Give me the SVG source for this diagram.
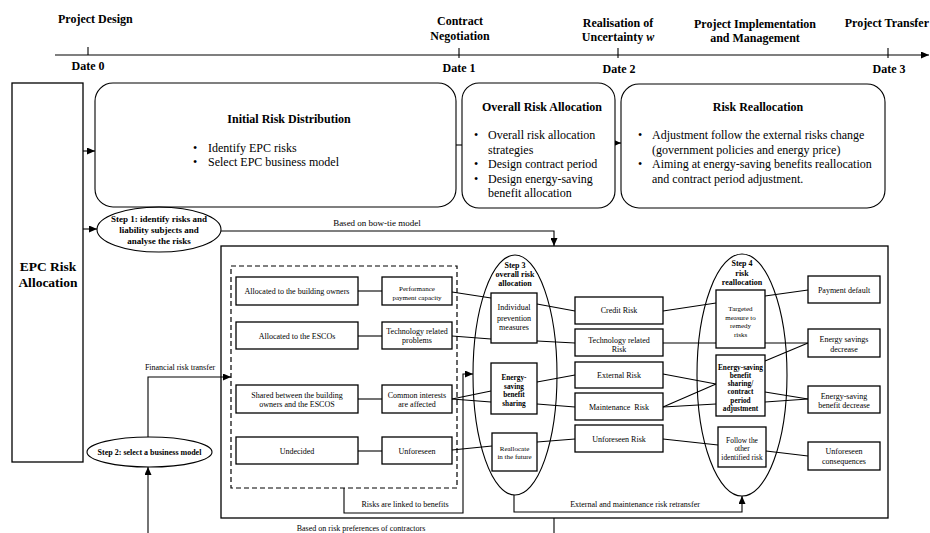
<svg xmlns="http://www.w3.org/2000/svg" width="930" height="533" viewBox="0 0 930 533">
<defs>
<style>
text { font-family: "Liberation Serif", "Times New Roman", serif; fill: #000; }
.b { font-weight: bold; }
.tl { font-size: 12px; font-weight: bold; }
.h { font-size: 12px; font-weight: bold; text-anchor: middle; }
.p { font-size: 12px; }
.s8 { font-size: 8px; text-anchor: middle; }
.s7 { font-size: 7px; text-anchor: middle; }
.b8 { font-size: 8px; font-weight: bold; text-anchor: middle; }
.b7 { font-size: 7.3px; font-weight: bold; text-anchor: middle; }
.box { fill: #fff; stroke: #000; stroke-width: 1.3; }
.rbox { fill: #fff; stroke: #000; stroke-width: 1.1; }
.ell { fill: none; stroke: #000; stroke-width: 1.1; }
.ln { fill: none; stroke: #000; stroke-width: 1.1; }
.dash { fill: none; stroke: #000; stroke-width: 1.2; stroke-dasharray: 5 3; }
</style>
<marker id="ar" markerUnits="userSpaceOnUse" markerWidth="8" markerHeight="7" refX="8" refY="3.5" orient="auto">
<path d="M0,0 L8,3.5 L0,7 z" fill="#000"/>
</marker>
</defs>
<rect width="930" height="533" fill="#fff"/>

<!-- timeline -->
<g id="timeline">
<line class="ln" x1="55" y1="55" x2="929" y2="55" marker-end="url(#ar)"/>
<line class="ln" x1="88" y1="47" x2="88" y2="55"/>
<line class="ln" x1="459" y1="48" x2="459" y2="58"/>
<line class="ln" x1="618" y1="48" x2="618" y2="58"/>
<line class="ln" x1="888" y1="48" x2="888" y2="58"/>
<text class="tl" x="58" y="23">Project Design</text>
<text class="tl" x="88" y="70" text-anchor="middle">Date 0</text>
<text class="tl" x="460" y="25" text-anchor="middle">Contract</text>
<text class="tl" x="460" y="40" text-anchor="middle">Negotiation</text>
<text class="tl" x="459" y="72" text-anchor="middle">Date 1</text>
<text class="tl" x="618" y="27" text-anchor="middle">Realisation of</text>
<text class="tl" x="618" y="41" text-anchor="middle">Uncertainty <tspan font-style="italic">w</tspan></text>
<text class="tl" x="619" y="73" text-anchor="middle">Date 2</text>
<text class="tl" x="755" y="28" text-anchor="middle">Project Implementation</text>
<text class="tl" x="755" y="42" text-anchor="middle">and Management</text>
<text class="tl" x="929" y="27" text-anchor="end">Project Transfer</text>
<text class="tl" x="889" y="73" text-anchor="middle">Date 3</text>
</g>

<!-- containers -->
<g id="bigbox"><rect class="box" x="221" y="246" width="667" height="272" fill="none"/></g>
<g id="dashedbox"><rect class="dash" x="231" y="266" width="226" height="222"/></g>

<g id="step3-ellipse"><ellipse class="ell" cx="515" cy="375" rx="42" ry="120"/>
<text class="b8" x="515" y="268">Step 3</text>
<text class="b8" x="515" y="277">overall risk</text>
<text class="b8" x="515" y="286">allocation</text>
</g>
<g id="step4-ellipse"><ellipse class="ell" cx="742" cy="375" rx="45" ry="121"/>
<text class="b8" x="742" y="266">Step 4</text>
<text class="b8" x="742" y="276">risk</text>
<text class="b8" x="742" y="285">reallocation</text>
</g>

<!-- connectors -->
<g id="connectors">
<line class="ln" x1="83" y1="151" x2="95" y2="151" marker-end="url(#ar)"/>
<line class="ln" x1="456" y1="145" x2="462" y2="145"/>
<line class="ln" x1="615" y1="143" x2="621" y2="143" marker-end="url(#ar)"/>
<line class="ln" x1="83" y1="229" x2="97" y2="229" marker-end="url(#ar)"/>
<polyline class="ln" points="221,231 554,231 554,246" marker-end="url(#ar)"/>
<polyline class="ln" points="148,437 148,377 231,377" marker-end="url(#ar)"/>
<line class="ln" x1="148" y1="533" x2="148" y2="467" marker-end="url(#ar)"/>
<line class="ln" x1="554" y1="518" x2="554" y2="533"/>
<polyline class="ln" points="344,488 344,513 463,513 463,374 473,374" marker-end="url(#ar)"/>
<polyline class="ln" points="514,495 514,512 742,512 742,496" marker-end="url(#ar)"/>
<!-- column links -->
<line class="ln" x1="358" y1="291" x2="382" y2="291"/>
<line class="ln" x1="358" y1="336" x2="382" y2="336"/>
<line class="ln" x1="358" y1="399" x2="382" y2="399"/>
<line class="ln" x1="358" y1="451" x2="382" y2="451"/>
<line class="ln" x1="452" y1="292" x2="491" y2="298"/>
<line class="ln" x1="452" y1="336" x2="491" y2="339"/>
<line class="ln" x1="452" y1="399" x2="491" y2="391"/>
<line class="ln" x1="452" y1="399" x2="491" y2="402"/>
<line class="ln" x1="452" y1="450" x2="492" y2="446"/>
<line class="ln" x1="537" y1="304" x2="575" y2="311"/>
<line class="ln" x1="537" y1="341" x2="575" y2="343"/>
<line class="ln" x1="537" y1="382" x2="575" y2="375"/>
<line class="ln" x1="537" y1="404" x2="575" y2="407"/>
<line class="ln" x1="537" y1="442" x2="575" y2="439"/>
<line class="ln" x1="663" y1="311" x2="716" y2="303"/>
<line class="ln" x1="663" y1="343" x2="716" y2="343"/>
<line class="ln" x1="663" y1="374" x2="716" y2="384"/>
<line class="ln" x1="663" y1="407" x2="716" y2="384"/>
<line class="ln" x1="663" y1="407" x2="716" y2="404"/>
<line class="ln" x1="663" y1="439" x2="718" y2="445"/>
<line class="ln" x1="765" y1="296" x2="808" y2="290"/>
<line class="ln" x1="765" y1="343" x2="808" y2="343"/>
<line class="ln" x1="765" y1="361" x2="808" y2="343"/>
<line class="ln" x1="765" y1="392" x2="808" y2="399"/>
<line class="ln" x1="765" y1="402" x2="808" y2="399"/>
<line class="ln" x1="766" y1="451" x2="808" y2="456"/>
<text class="s8" x="377" y="226" style="font-size:9px">Based on bow-tie model</text>
<text class="s8" x="180" y="370">Financial risk transfer</text>
<text class="s8" x="405" y="507">Risks are linked to benefits</text>
<text class="s8" x="635" y="507">External and maintenance risk retransfer</text>
<text class="s8" x="361" y="531">Based on risk preferences of contractors</text>
</g>

<!-- top nodes -->
<g id="epc"><rect class="box" x="12" y="83" width="71" height="379"/>
<text class="b" x="48" y="271" text-anchor="middle" font-size="13.5">EPC Risk</text>
<text class="b" x="48" y="287" text-anchor="middle" font-size="13.5">Allocation</text>
</g>
<g id="initial"><rect class="rbox" x="95" y="83" width="361" height="124" rx="18"/>
<text class="h" x="289" y="123">Initial Risk Distribution</text>
<text class="p" x="193" y="152">•</text><text class="p" x="208" y="152">Identify EPC risks</text>
<text class="p" x="193" y="166">•</text><text class="p" x="208" y="166">Select EPC business model</text>
</g>
<g id="overall"><rect class="rbox" x="462" y="83" width="153" height="125" rx="17"/>
<text class="h" x="542" y="111">Overall Risk Allocation</text>
<text class="p" x="474" y="139">•</text><text class="p" x="488" y="139">Overall risk allocation</text>
<text class="p" x="488" y="154">strategies</text>
<text class="p" x="474" y="168">•</text><text class="p" x="488" y="168">Design contract period</text>
<text class="p" x="474" y="183">•</text><text class="p" x="488" y="183">Design energy-saving</text>
<text class="p" x="488" y="197">benefit allocation</text>
</g>
<g id="realloc"><rect class="rbox" x="621" y="84" width="264" height="124" rx="18"/>
<text class="h" x="758" y="111">Risk Reallocation</text>
<text class="p" x="638" y="139">•</text><text class="p" x="652" y="139">Adjustment follow the external risks change</text>
<text class="p" x="652" y="154">(government policies and energy price)</text>
<text class="p" x="638" y="168">•</text><text class="p" x="652" y="168">Aiming at energy-saving benefits reallocation</text>
<text class="p" x="652" y="183">and contract period adjustment.</text>
</g>
<g id="step1"><ellipse class="ell" cx="159" cy="229.5" rx="62" ry="22.5" fill="#fff"/>
<text class="b" x="159" y="222" text-anchor="middle" font-size="9">Step 1: identify risks and</text>
<text class="b" x="159" y="233" text-anchor="middle" font-size="9">liability subjects and</text>
<text class="b" x="159" y="244" text-anchor="middle" font-size="9">analyse the risks</text>
</g>
<g id="step2"><ellipse class="ell" cx="149.5" cy="452" rx="62.5" ry="15" fill="#fff"/>
<text class="b8" x="149.5" y="455">Step 2: select a business model</text>
</g>

<!-- subject column -->
<g id="n-owners"><rect class="box" x="236" y="277" width="122" height="28"/><text class="s8" x="297" y="294">Allocated to the building owners</text></g>
<g id="n-escos"><rect class="box" x="236" y="322" width="122" height="27"/><text class="s8" x="297" y="339">Allocated to the ESCOs</text></g>
<g id="n-shared"><rect class="box" x="236" y="385" width="122" height="28"/><text class="s8" x="297" y="398">Shared between the building</text><text class="s8" x="297" y="407">owners and the ESCOS</text></g>
<g id="n-undecided"><rect class="box" x="236" y="437" width="122" height="27"/><text class="s8" x="297" y="454">Undecided</text></g>

<g id="n-perf"><rect class="box" x="382" y="277" width="70" height="28"/><text class="s7" x="417" y="290.5">Performance</text><text class="s7" x="417" y="299.5">payment capacity</text></g>
<g id="n-tech"><rect class="box" x="382" y="322" width="70" height="27"/><text class="s8" x="417" y="334">Technology related</text><text class="s8" x="417" y="343">problems</text></g>
<g id="n-common"><rect class="box" x="382" y="385" width="70" height="28"/><text class="s8" x="417" y="398">Common interests</text><text class="s8" x="417" y="407">are affected</text></g>
<g id="n-unfore"><rect class="box" x="382" y="437" width="70" height="27"/><text class="s8" x="417" y="454">Unforeseen</text></g>

<!-- step 3 boxes -->
<g id="n-indiv"><rect class="box" x="491" y="293" width="46" height="50"/><text class="s8" x="514" y="310">Individual</text><text class="s8" x="514" y="321">prevention</text><text class="s8" x="514" y="330">measures</text></g>
<g id="n-ebs"><rect class="box" x="491" y="363" width="46" height="51"/><text class="b7" x="514" y="380">Energy-</text><text class="b7" x="514" y="389">saving</text><text class="b7" x="514" y="397">benefit</text><text class="b7" x="514" y="406">sharing</text></g>
<g id="n-reall"><rect class="box" x="492" y="433" width="45" height="38"/><text class="s7" x="514.5" y="450.5">Reallocate</text><text class="s7" x="514.5" y="459">in the future</text></g>

<!-- risks -->
<g id="r-credit"><rect class="box" x="575" y="297" width="88" height="27"/><text class="s8" x="619" y="313">Credit Risk</text></g>
<g id="r-tech"><rect class="box" x="575" y="329" width="88" height="27"/><text class="s8" x="619" y="343">Technology related</text><text class="s8" x="619" y="352">Risk</text></g>
<g id="r-ext"><rect class="box" x="575" y="362" width="88" height="26"/><text class="s8" x="619" y="378">External Risk</text></g>
<g id="r-maint"><rect class="box" x="575" y="393" width="88" height="27"/><text class="s8" x="619" y="410" xml:space="preserve">Maintenance  Risk</text></g>
<g id="r-unf"><rect class="box" x="575" y="425" width="88" height="27"/><text class="s8" x="619" y="442">Unforeseen Risk</text></g>

<!-- step 4 boxes -->
<g id="n-target"><rect class="box" x="716" y="290" width="49" height="58"/><text class="s7" x="740.5" y="310.5">Targeted</text><text class="s7" x="740.5" y="319.5">measure to</text><text class="s7" x="740.5" y="327.5">remedy</text><text class="s7" x="740.5" y="336.5">risks</text></g>
<g id="n-ebscp"><rect class="box" x="716" y="355" width="49" height="61"/><text class="b7" x="740.5" y="369.5">Energy-saving</text><text class="b7" x="740.5" y="377.8">benefit</text><text class="b7" x="740.5" y="386.1">sharing/</text><text class="b7" x="740.5" y="394.4">contract</text><text class="b7" x="740.5" y="402.7">period</text><text class="b7" x="740.5" y="411">adjustment</text></g>
<g id="n-follow"><rect class="box" x="718" y="427" width="48" height="40"/><text class="s7" x="742" y="442.5" style="font-size:7.4px">Follow the</text><text class="s7" x="742" y="451" style="font-size:7.4px">other</text><text class="s7" x="742" y="459.5" style="font-size:7.4px">identified risk</text></g>

<!-- outcomes -->
<g id="o-pay"><rect class="box" x="808" y="276" width="72" height="27"/><text class="s8" x="844" y="293">Payment default</text></g>
<g id="o-esd"><rect class="box" x="808" y="329" width="72" height="28"/><text class="s8" x="844" y="342">Energy savings</text><text class="s8" x="844" y="352">decrease</text></g>
<g id="o-ebd"><rect class="box" x="808" y="386" width="72" height="27"/><text class="s8" x="844" y="399">Energy-saving</text><text class="s8" x="844" y="408">benefit decrease</text></g>
<g id="o-unc"><rect class="box" x="808" y="442" width="72" height="28"/><text class="s8" x="844" y="454">Unforeseen</text><text class="s8" x="844" y="464">consequences</text></g>
</svg>
